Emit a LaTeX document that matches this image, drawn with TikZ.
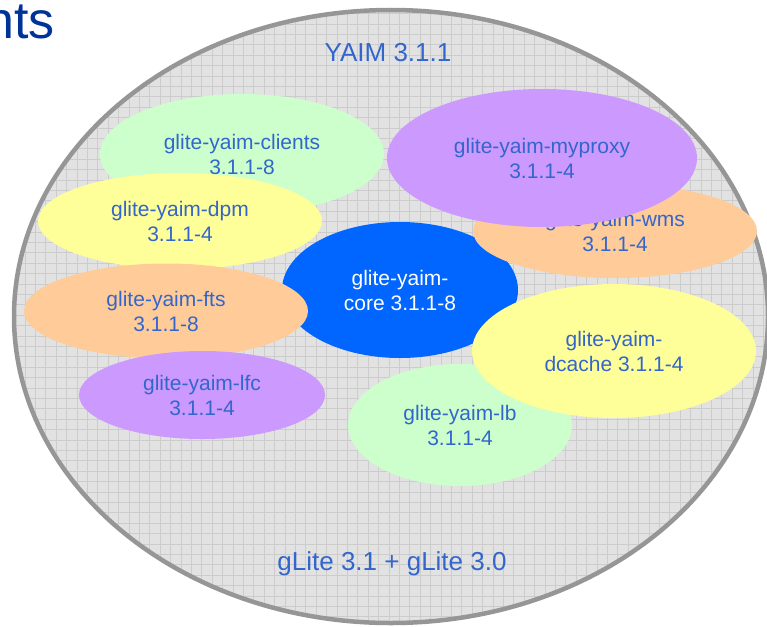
\documentclass[tikz,border=0pt]{standalone}
\usepackage{fontspec}
\setmainfont{Liberation Sans}
\usetikzlibrary{shapes.geometric}

\definecolor{slideblue}{RGB}{0,51,153}
\definecolor{yaimtext}{RGB}{51,102,204}
\definecolor{ringgrey}{RGB}{150,150,150}
\definecolor{gridbg}{RGB}{226,226,226}
\definecolor{gridline}{RGB}{204,204,204}
\definecolor{coreblue}{RGB}{0,102,255}
\definecolor{pkggreen}{RGB}{204,255,204}
\definecolor{pkgyellow}{RGB}{255,255,153}
\definecolor{pkgorange}{RGB}{255,204,153}
\definecolor{pkgpurple}{RGB}{204,153,255}

\begin{document}
\begin{tikzpicture}[x=1pt,y=-1pt,
		pkg/.style={ellipse, inner sep=0pt, align=center, text=yaimtext,
			font=\fontsize{21}{25}\selectfont},
		big/.style={inner sep=0pt, text=yaimtext, font=\fontsize{26}{30}\selectfont}]
		\useasboundingbox (0,0) rectangle (767,626);
		% slide title, cut off at the left
		\node[anchor=base east, inner sep=0pt, text=slideblue, font=\fontsize{52}{60}\selectfont] (title) at (55,39) {nts};
		%
		\fill[gridbg] (391,316.5) ellipse (377 and 306.5);
		\begin{scope}
			\clip (391,316.5) ellipse (377 and 306.5);
			\foreach \x in {4,14.4,...,780} \draw[gridline, line width=.4pt] (\x,0) -- (\x,626);
			\foreach \y in {3,13.4,...,630} \draw[gridline, line width=.4pt] (0,\y) -- (780,\y);
		\end{scope}
		\draw[ringgrey, line width=4.5pt] (391,316.5) ellipse (377 and 306.5);
		%
		\node[big] (yaim) at (388,53) {YAIM 3.1.1};
		\node[big, anchor=base] (glite) at (392,570) {gLite 3.1 + gLite 3.0};
		%
		\node[pkg, fill=coreblue, text=white, minimum width=236pt, minimum height=136pt] (core) at (400,290) {glite-yaim-\\core 3.1.1-8};
		\node[pkg, fill=pkggreen, minimum width=284pt, minimum height=120pt] (clients) at (242,154) {glite-yaim-clients\\3.1.1-8};
		\node[pkg, fill=pkgyellow, minimum width=284pt, minimum height=96pt] (dpm) at (180,221) {glite-yaim-dpm\\3.1.1-4};
		\node[pkg, fill=pkgorange, minimum width=284pt, minimum height=95pt] (fts) at (166,311) {glite-yaim-fts\\3.1.1-8};
		\node[pkg, fill=pkgpurple, minimum width=246pt, minimum height=88pt] (lfc) at (202,395) {glite-yaim-lfc\\3.1.1-4};
		\node[pkg, fill=pkggreen, minimum width=224pt, minimum height=122pt] (lb) at (460,425) {glite-yaim-lb\\3.1.1-4};
		\node[pkg, fill=pkgyellow, minimum width=284pt, minimum height=134pt] (dcache) at (614,351) {glite-yaim-\\dcache 3.1.1-4};
		\node[pkg, fill=pkgorange, minimum width=284pt, minimum height=94pt] (wms) at (615,231) {glite-yaim-wms\\3.1.1-4};
		\node[pkg, fill=pkgpurple, minimum width=310pt, minimum height=138pt] (myproxy) at (542,158) {glite-yaim-myproxy\\3.1.1-4};
	\end{tikzpicture}
\end{document}
